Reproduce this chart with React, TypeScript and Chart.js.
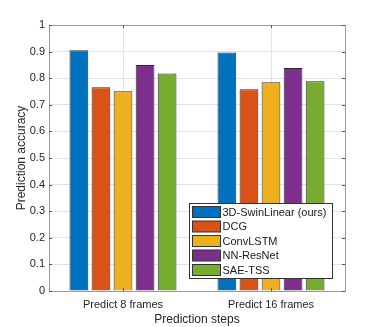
import React, { useEffect, useRef } from "react";
import { Chart, registerables } from "chart.js";

Chart.register(...registerables);

const categories = ["Predict 8 frames", "Predict 16 frames"];
const seriesNames = ["3D-SwinLinear (ours)", "DCG", "ConvLSTM", "NN-ResNet", "SAE-TSS"];
const swinLinear = [0.905, 0.897];
const dcg = [0.766, 0.758];
const convLSTM = [0.751, 0.785];
const nnResNet = [0.85, 0.838];
const saeTSS = [0.818, 0.789];
const seriesColors = ["#0072BD", "#D95319", "#EDB120", "#7E2F8E", "#77AC30"];
const yTicks = [0, 0.1, 0.2, 0.3, 0.4, 0.5, 0.6, 0.7, 0.8, 0.9, 1];

const FONT = "Helvetica, 'Liberation Sans', Arial, sans-serif";

const frameAndLegend = {
  id: "frameAndLegend",
  afterDraw(chart: any) {
    const { ctx, chartArea } = chart;
    const { left, right, top, bottom } = chartArea;
    const x = chart.scales.x;
    const y = chart.scales.y;
    ctx.save();
    // box frame
    ctx.strokeStyle = "#9a9a9a";
    ctx.lineWidth = 1;
    ctx.strokeRect(Math.round(left) + 0.5, Math.round(top) + 0.5, Math.round(right - left), Math.round(bottom - top));
    // inward ticks
    ctx.strokeStyle = "#555555";
    ctx.beginPath();
    yTicks.forEach((v) => {
      const py = Math.round(y.getPixelForValue(v)) + 0.5;
      ctx.moveTo(left, py);
      ctx.lineTo(left + 3, py);
      ctx.moveTo(right, py);
      ctx.lineTo(right - 3, py);
    });
    categories.forEach((_, i) => {
      const px = Math.round(x.getPixelForValue(i)) + 0.5;
      ctx.moveTo(px, bottom);
      ctx.lineTo(px, bottom - 3);
      ctx.moveTo(px, top);
      ctx.lineTo(px, top + 3);
    });
    ctx.stroke();

    // legend
    const lx = 189.5;
    const ly = 203.5;
    const lw = 143;
    const lh = 75;
    ctx.fillStyle = "#ffffff";
    ctx.fillRect(lx, ly, lw, lh);
    ctx.strokeStyle = "#333333";
    ctx.strokeRect(lx, ly, lw, lh);
    ctx.font = "11px " + FONT;
    ctx.textBaseline = "middle";
    ctx.textAlign = "left";
    chart.data.datasets.forEach((ds: any, i: number) => {
      const ry = ly + 3 + i * 14.5;
      ctx.fillStyle = ds.backgroundColor;
      ctx.fillRect(lx + 3, ry, 28, 11);
      ctx.strokeStyle = "#333333";
      ctx.strokeRect(lx + 3, ry, 28, 11);
      ctx.fillStyle = "#1a1a1a";
      ctx.fillText(ds.label, lx + 33, ry + 6);
    });
    ctx.restore();
  },
};

export default function App() {
  const ref = useRef<HTMLCanvasElement>(null);
  useEffect(() => {
    document.body.style.margin = "0";
    const values = [swinLinear, dcg, convLSTM, nnResNet, saeTSS];
    const chart = new Chart(ref.current!, {
      type: "bar",
      data: {
        labels: categories,
        datasets: seriesNames.map((name, i) => ({
          label: name,
          data: values[i],
          backgroundColor: seriesColors[i],
          borderColor: "#2b2b2b",
          borderWidth: 1,
          barPercentage: 0.85,
          categoryPercentage: 0.745,
        })),
      },
      options: {
        responsive: false,
        animation: false,
        devicePixelRatio: 1,
        layout: { padding: { left: 0, top: 25, right: 37, bottom: 0 } },
        plugins: { legend: { display: false }, tooltip: { enabled: false } },
        scales: {
          x: {
            offset: true,
            grid: { offset: false, color: "#e3e3e3", drawTicks: false },
            border: { display: false },
            ticks: { color: "#262626", font: { size: 11, family: FONT }, padding: 7 },
            title: {
              display: true,
              text: "Prediction steps",
              color: "#262626",
              font: { size: 12, family: FONT },
              padding: 0,
            },
            afterFit: (s: any) => {
              s.height = 36;
            },
          },
          y: {
            min: 0,
            max: 1,
            grid: { color: "#e3e3e3", drawTicks: false },
            border: { display: false },
            afterBuildTicks: (s: any) => {
              s.ticks = yTicks.map((v) => ({ value: v }));
            },
            ticks: {
              color: "#262626",
              font: { size: 11, family: FONT },
              padding: 4,
              callback: (v: any) => String(Number(v)),
            },
            title: {
              display: true,
              text: "Prediction accuracy",
              color: "#262626",
              font: { size: 12, family: FONT },
              padding: { top: 14, bottom: 0 },
            },
            afterFit: (s: any) => {
              s.width = 49;
            },
          },
        },
      },
      plugins: [frameAndLegend],
    });
    return () => chart.destroy();
  }, []);
  return <canvas ref={ref} width={382} height={327} style={{ display: "block" }} />;
}
